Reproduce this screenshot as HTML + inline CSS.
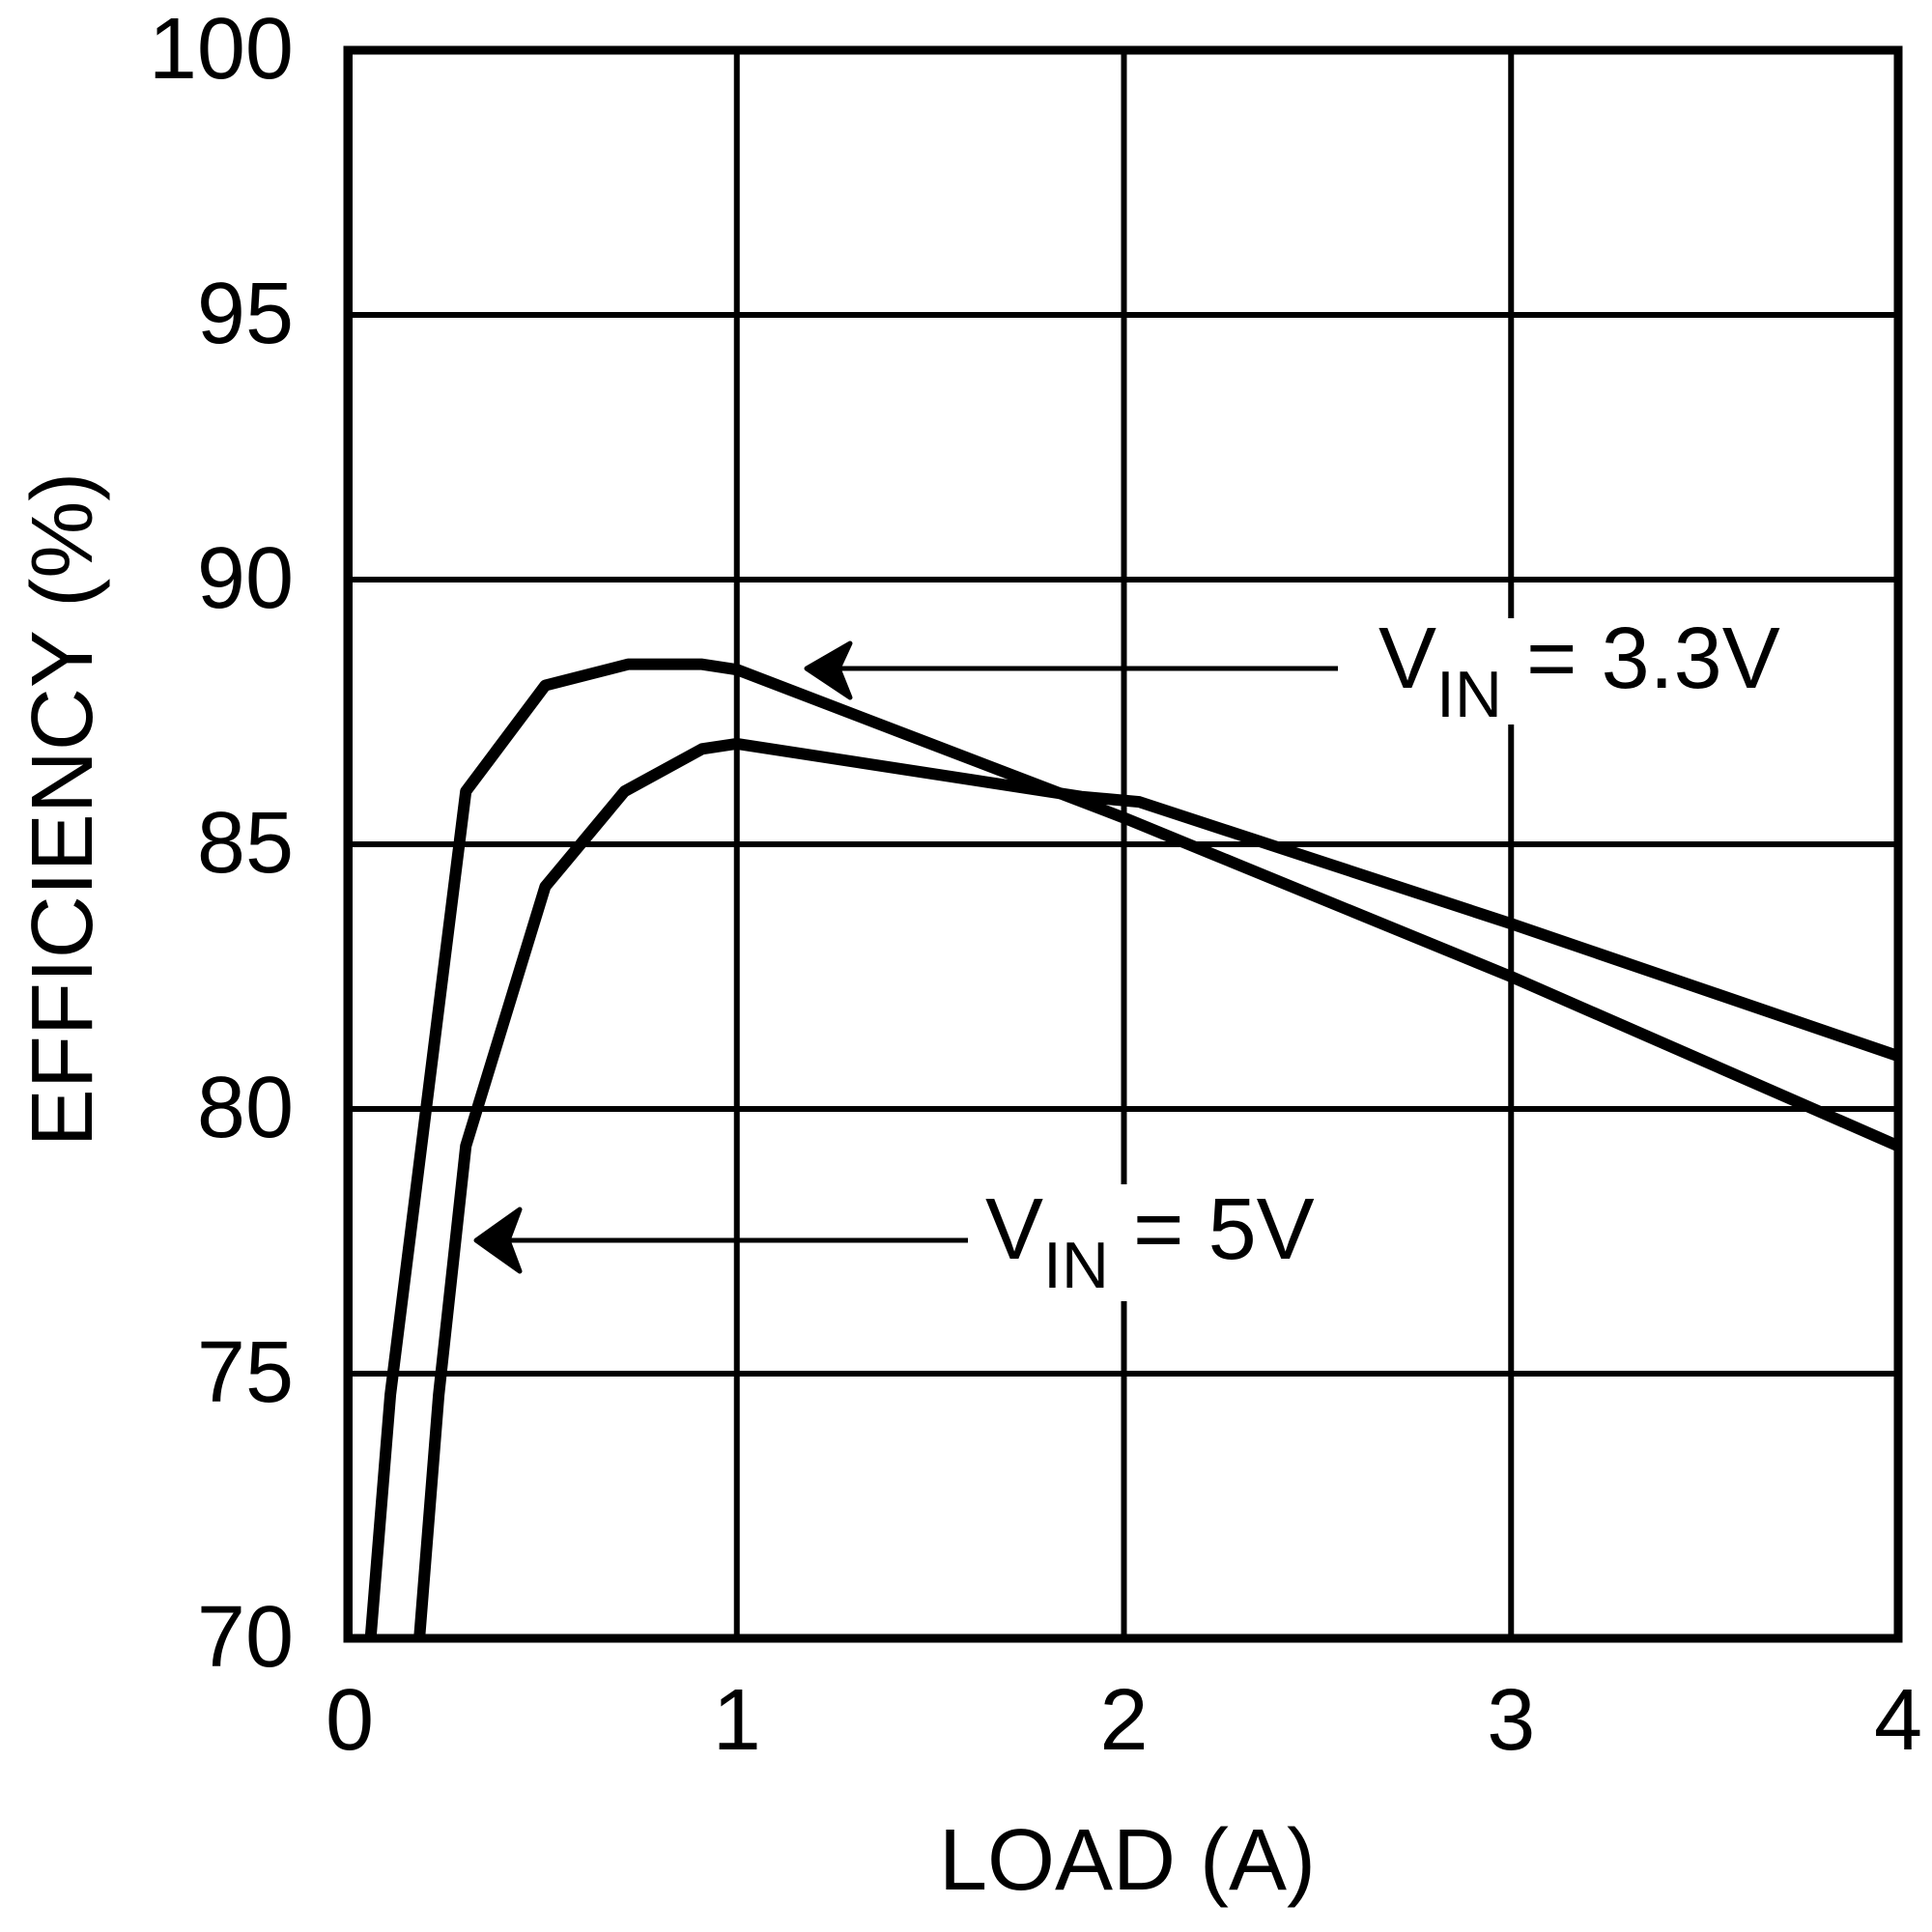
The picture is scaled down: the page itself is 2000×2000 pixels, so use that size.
<!DOCTYPE html>
<html><head><meta charset="utf-8"><style>
html,body{margin:0;padding:0;background:#fff;}
svg{display:block;}
text{font-family:"Liberation Sans",Arial,sans-serif;fill:#000;}
</style></head><body>
<svg id="chart" width="2000" height="2000" viewBox="0 0 2000 2000">
<g id="grid"></g>
<g id="ticks"></g>
<g id="series"></g>
<rect x="360" y="52" width="1605" height="1644" fill="none" stroke="#000" stroke-width="9"/>
<g>
<rect x="1400" y="640" width="470" height="110" fill="#fff"/>
<line x1="1385" y1="692" x2="845" y2="692" stroke="#000" stroke-width="5"/>
<path d="M880 666 L835 692 L880 722 L868 692 Z" fill="#000" stroke="#000" stroke-width="5" stroke-linejoin="round"/>
<text x="1427" y="712" font-size="90">V<tspan font-size="68" dy="30">IN</tspan><tspan dy="-30"> = 3.3V</tspan></text>
</g>
<g>
<rect x="1010" y="1226" width="360" height="121" fill="#fff"/>
<line x1="1002" y1="1284" x2="503" y2="1284" stroke="#000" stroke-width="5"/>
<path d="M538 1252 L493 1284 L538 1316 L526 1284 Z" fill="#000" stroke="#000" stroke-width="5" stroke-linejoin="round"/>
<text x="1020" y="1303" font-size="90">V<tspan font-size="68" dy="30">IN</tspan><tspan dy="-30"> = 5V</tspan></text>
</g>
<text x="1167" y="1956" font-size="90" text-anchor="middle">LOAD (A)</text>
<text transform="translate(95,838) rotate(-90)" font-size="90" text-anchor="middle">EFFICIENCY (%)</text>
</svg>
<script>
const xTicks = [0, 1, 2, 3, 4];
const yTicks = [70, 75, 80, 85, 90, 95, 100];
const load33 = [0.054, 0.105, 0.3, 0.505, 0.719, 0.91, 1.0, 2.0, 3.0, 4.0];
const eff33 = [70, 74.6, 86.0, 88.0, 88.4, 88.4, 88.3, 85.5, 82.5, 79.3];
const load5 = [0.18, 0.23, 0.3, 0.505, 0.71, 0.91, 1.0, 1.89, 2.04, 3.0, 4.0];
const eff5 = [70, 74.6, 79.3, 84.2, 86.0, 86.8, 86.9, 85.9, 85.8, 83.5, 81.0];

const NS = 'http://www.w3.org/2000/svg';
const X0 = 362, X1 = 1965, Y0 = 1696, Y1 = 52;
const xs = v => X0 + (v - 0) / 4 * (X1 - X0);
const ys = v => Y0 - (v - 70) / 30 * (Y0 - Y1);

const grid = document.getElementById('grid');
const ticks = document.getElementById('ticks');
xTicks.forEach(t => {
  const l = document.createElementNS(NS, 'line');
  l.setAttribute('x1', xs(t)); l.setAttribute('x2', xs(t));
  l.setAttribute('y1', Y1); l.setAttribute('y2', Y0);
  l.setAttribute('stroke', '#000'); l.setAttribute('stroke-width', '6');
  
  
  grid.appendChild(l);
  const tx = document.createElementNS(NS, 'text');
  tx.setAttribute('x', xs(t)); tx.setAttribute('y', 1811);
  tx.setAttribute('font-size', '90'); tx.setAttribute('text-anchor', 'middle');
  tx.textContent = t;
  
  
  ticks.appendChild(tx);
});
yTicks.forEach(t => {
  const l = document.createElementNS(NS, 'line');
  l.setAttribute('x1', X0); l.setAttribute('x2', X1);
  l.setAttribute('y1', ys(t)); l.setAttribute('y2', ys(t));
  l.setAttribute('stroke', '#000'); l.setAttribute('stroke-width', '6');
  
  
  grid.appendChild(l);
  const tx = document.createElementNS(NS, 'text');
  tx.setAttribute('x', 304); tx.setAttribute('y', ys(t) + 29);
  tx.setAttribute('font-size', '90'); tx.setAttribute('text-anchor', 'end');
  tx.textContent = t;
  
  
  ticks.appendChild(tx);
});
const series = document.getElementById('series');
function drawLine(xv, yv, name) {
  const p = document.createElementNS(NS, 'polyline');
  p.setAttribute('points', xv.map((x, i) => xs(x) + ',' + ys(yv[i])).join(' '));
  p.setAttribute('fill', 'none'); p.setAttribute('stroke', '#000');
  p.setAttribute('stroke-width', '12'); p.setAttribute('stroke-linejoin', 'round');
  
  
  series.appendChild(p);
}
drawLine(load33, eff33, 'series-vin-3v3');
drawLine(load5, eff5, 'series-vin-5v');
</script>
</body></html>
